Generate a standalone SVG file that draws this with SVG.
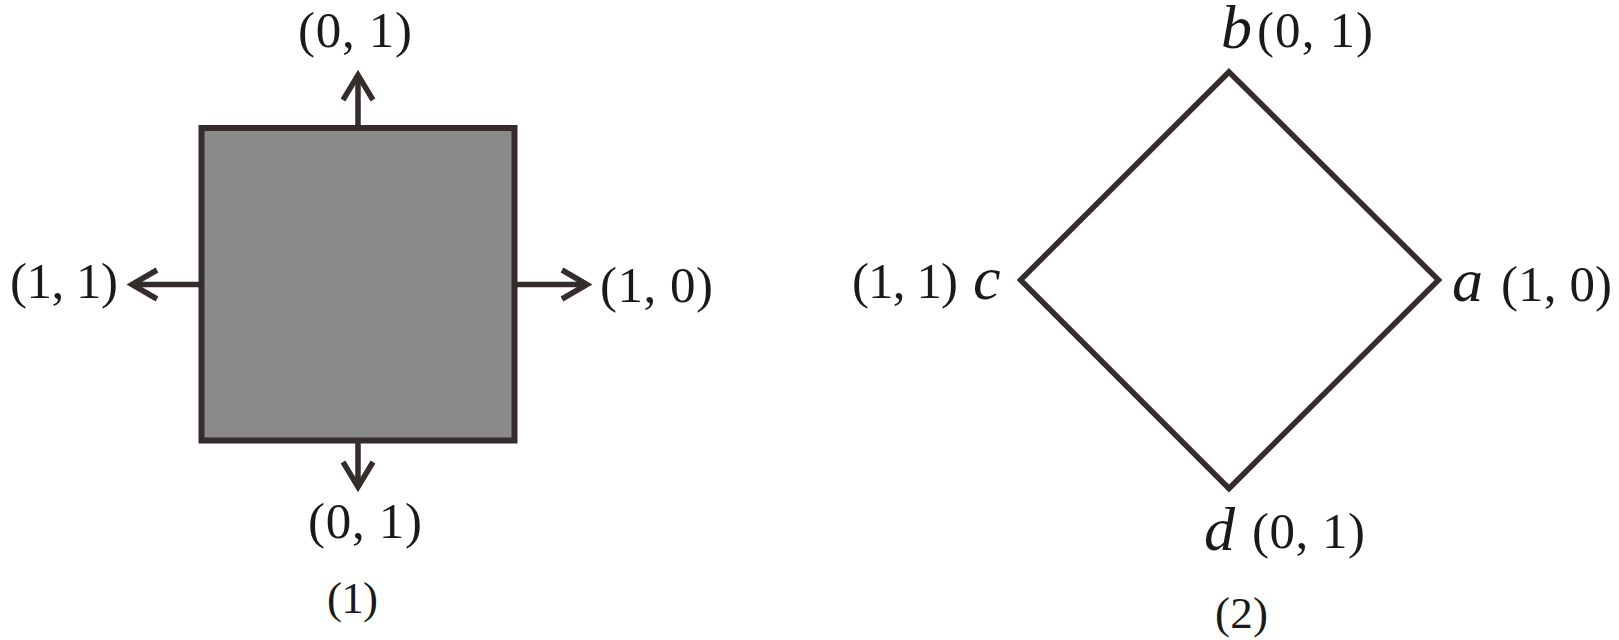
<svg xmlns="http://www.w3.org/2000/svg" width="1619" height="640" viewBox="0 0 1619 640">
<style>
.t{font-family:"Liberation Serif","Times New Roman",serif;font-size:51px;fill:#1a1a1a}
.s{font-size:45px}
.v{font-family:"Liberation Serif","Times New Roman",serif;font-style:italic;font-size:62px;fill:#1a1a1a}
.ln{fill:none;stroke:#342d2c;stroke-width:5.5;stroke-linejoin:miter;stroke-linecap:butt}
</style>
<rect width="1619" height="640" fill="#ffffff"/>
<g id="square">
<rect x="201.5" y="128" width="313" height="312.5" fill="#8a8a8a" stroke="#342d2c" stroke-width="6"/>
</g>
<g id="connectors">
<path class="ln" d="M358 128V77"/>
<polyline class="ln" points="343,100 358,75 373,100"/>
<path class="ln" d="M358 440.5V485"/>
<polyline class="ln" points="343,462 358,487 373,462"/>
<path class="ln" d="M201.5 284.5H134"/>
<polyline class="ln" points="157,270 132,284.5 157,299"/>
<path class="ln" d="M514.5 284.5H585"/>
<polyline class="ln" points="562,270 587,284.5 562,299"/>
</g>
<g id="label-top"><text class="t" x="298" y="47" textLength="114" lengthAdjust="spacing">(0, 1)</text></g>
<g id="label-left"><text class="t" x="10" y="298" textLength="108" lengthAdjust="spacing">(1, 1)</text></g>
<g id="label-right"><text class="t" x="600" y="302" textLength="113" lengthAdjust="spacing">(1, 0)</text></g>
<g id="label-bottom"><text class="t" x="308" y="538" textLength="114" lengthAdjust="spacing">(0, 1)</text></g>
<g id="caption-1"><text class="t s" x="327" y="613" textLength="51" lengthAdjust="spacing">(1)</text></g>
<g id="diamond">
<polygon class="ln" points="1229,72 1438.5,280 1229,488.5 1020.5,280"/>
</g>
<g id="vertex-b"><text class="v" x="1221" y="48">b</text><text class="t" x="1257" y="47" textLength="116" lengthAdjust="spacing">(0, 1)</text></g>
<g id="vertex-c"><text class="t" x="852" y="298" textLength="106" lengthAdjust="spacing">(1, 1)</text><text class="v" x="973" y="299">c</text></g>
<g id="vertex-a"><text class="v" x="1452" y="301">a</text><text class="t" x="1501" y="301" textLength="111" lengthAdjust="spacing">(1, 0)</text></g>
<g id="vertex-d"><text class="v" x="1204" y="550">d</text><text class="t" x="1252" y="548" textLength="113" lengthAdjust="spacing">(0, 1)</text></g>
<g id="caption-2"><text class="t s" x="1215" y="628" textLength="53" lengthAdjust="spacing">(2)</text></g>
</svg>
